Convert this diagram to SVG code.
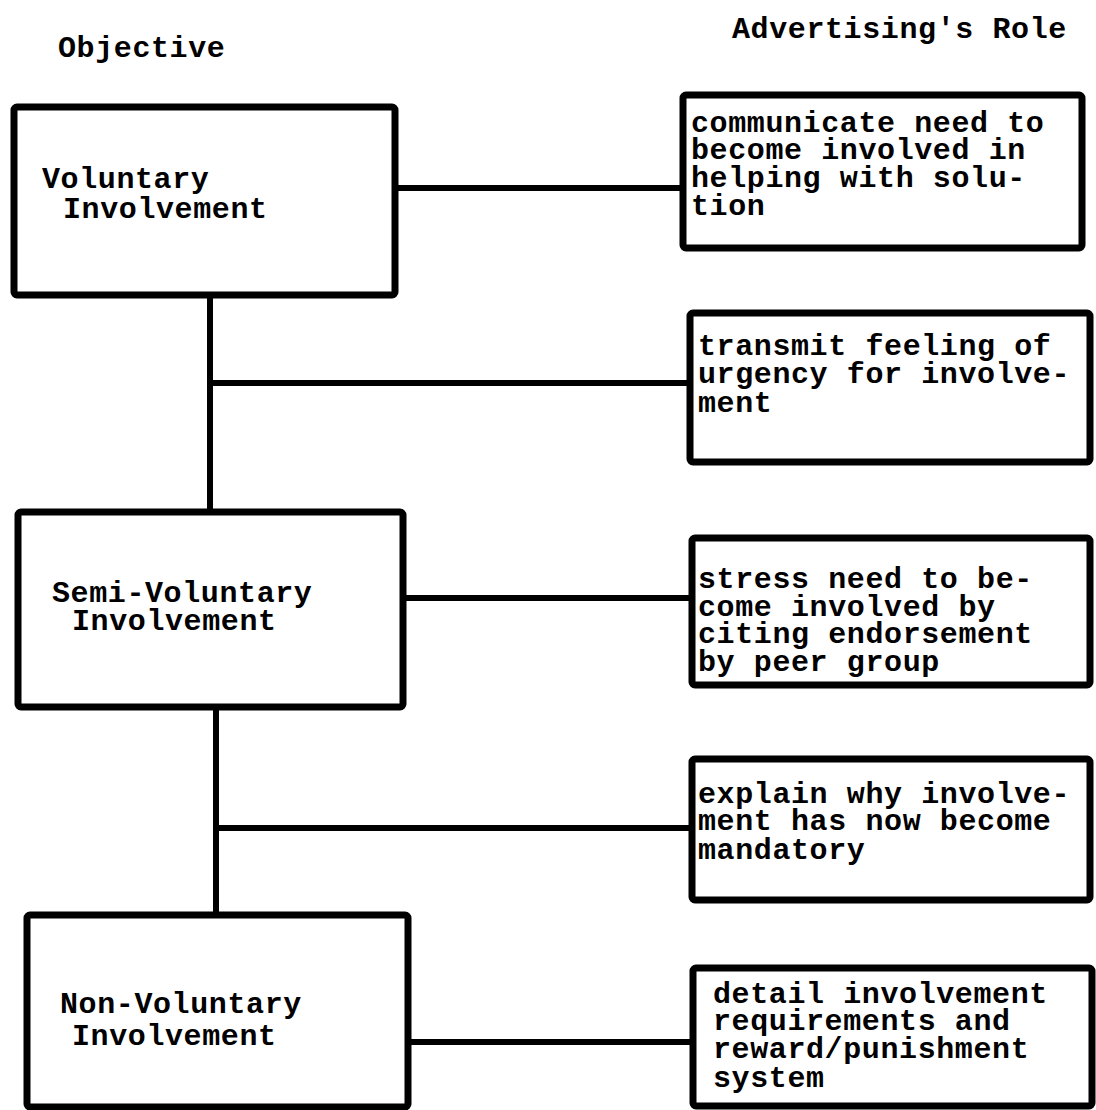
<svg xmlns="http://www.w3.org/2000/svg" width="1096" height="1110" viewBox="0 0 1096 1110">
<style>
.box{fill:#fff;stroke:#000;stroke-width:7;stroke-linejoin:round}
.con line{stroke:#000;stroke-width:6;stroke-linecap:square}
text{font-family:"Liberation Mono","DejaVu Sans Mono",monospace;font-size:30px;letter-spacing:0.6px;font-weight:bold;fill:#000}
</style>
<rect width="1096" height="1110" fill="#fff"/>
<g id="headers">
<text x="58" y="57">Objective</text>
<text x="732" y="38">Advertising's Role</text>
</g>
<g class="con" id="connectors">
<line x1="395" y1="188" x2="683" y2="188"/>
<line x1="210" y1="295" x2="210" y2="512"/>
<line x1="210" y1="383" x2="690" y2="383"/>
<line x1="403" y1="598" x2="692" y2="598"/>
<line x1="216" y1="707" x2="216" y2="915"/>
<line x1="216" y1="828" x2="692" y2="828"/>
<line x1="408" y1="1042" x2="693" y2="1042"/>
</g>
<g id="voluntary">
<rect class="box" x="14" y="107" width="381" height="188" rx="3"/>
<text x="42" y="188">Voluntary</text>
<text x="63" y="218">Involvement</text>
</g>
<g id="semi-voluntary">
<rect class="box" x="18" y="512" width="385" height="195" rx="3"/>
<text x="52" y="602">Semi-Voluntary</text>
<text x="72" y="630">Involvement</text>
</g>
<g id="non-voluntary">
<rect class="box" x="27" y="915" width="381" height="192" rx="3"/>
<text x="60" y="1013">Non-Voluntary</text>
<text x="72" y="1045">Involvement</text>
</g>
<g id="role1">
<rect class="box" x="683" y="95" width="399" height="153" rx="3"/>
<text x="691" y="132">communicate need to</text>
<text x="691" y="159">become involved in</text>
<text x="691" y="187">helping with solu-</text>
<text x="691" y="215">tion</text>
</g>
<g id="role2">
<rect class="box" x="690" y="313" width="400" height="149" rx="3"/>
<text x="698" y="355">transmit feeling of</text>
<text x="698" y="383">urgency for involve-</text>
<text x="698" y="412">ment</text>
</g>
<g id="role3">
<rect class="box" x="692" y="538" width="398" height="147" rx="3"/>
<text x="698" y="588">stress need to be-</text>
<text x="698" y="616">come involved by</text>
<text x="698" y="643">citing endorsement</text>
<text x="698" y="671">by peer group</text>
</g>
<g id="role4">
<rect class="box" x="692" y="759" width="398" height="141" rx="3"/>
<text x="698" y="803">explain why involve-</text>
<text x="698" y="830">ment has now become</text>
<text x="698" y="859">mandatory</text>
</g>
<g id="role5">
<rect class="box" x="693" y="968" width="399" height="138" rx="3"/>
<text x="713" y="1003">detail involvement</text>
<text x="713" y="1030">requirements and</text>
<text x="713" y="1058">reward/punishment</text>
<text x="713" y="1087">system</text>
</g>
</svg>
